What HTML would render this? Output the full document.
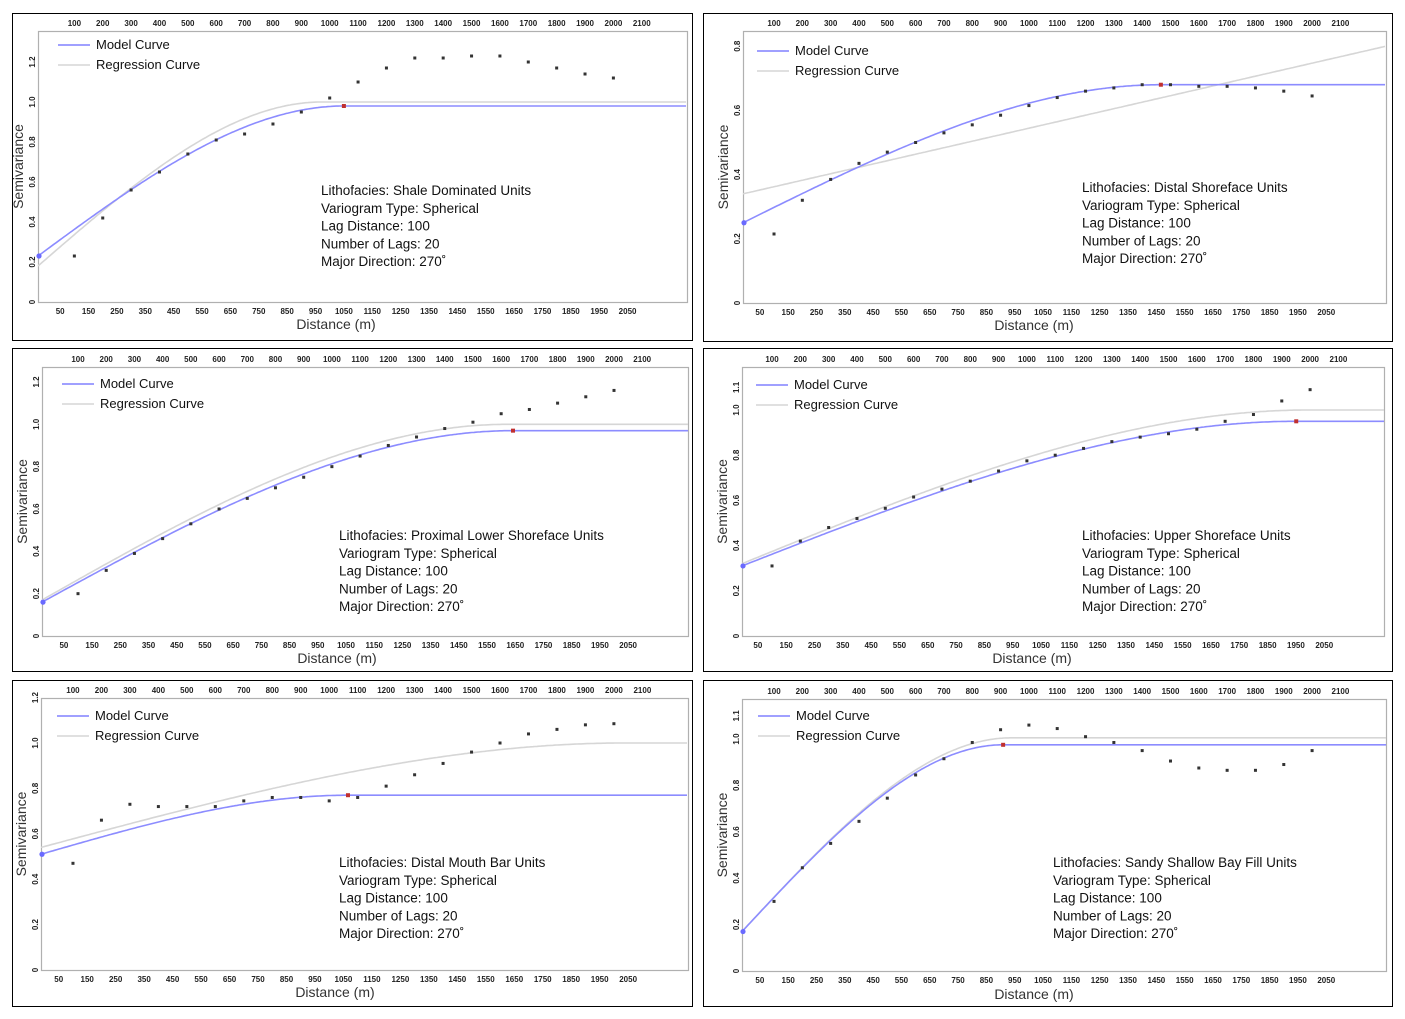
<!DOCTYPE html>
<html><head><meta charset="utf-8"><style>
html,body{margin:0;padding:0;background:#fff;}
svg{display:block;font-family:"Liberation Sans",sans-serif;}
</style></head><body>
<svg id="fig" width="1405" height="1019" viewBox="0 0 1405 1019" xmlns="http://www.w3.org/2000/svg"></svg>
<script>
// ---- data arrays ----
const lags = [100,200,300,400,500,600,700,800,900,1000,1100,1200,1300,1400,1500,1600,1700,1800,1900,2000];
const topTicks = [100,200,300,400,500,600,700,800,900,1000,1100,1200,1300,1400,1500,1600,1700,1800,1900,2000,2100];
const bottomTicks = [50,150,250,350,450,550,650,750,850,950,1050,1150,1250,1350,1450,1550,1650,1750,1850,1950,2050];
const titles = ["Shale Dominated Units","Distal Shoreface Units","Proximal Lower Shoreface Units","Upper Shoreface Units","Distal Mouth Bar Units","Sandy Shallow Bay Fill Units"];
const vals1 = [0.23,0.42,0.56,0.65,0.74,0.81,0.84,0.89,0.95,1.02,1.10,1.17,1.22,1.22,1.23,1.23,1.20,1.17,1.14,1.12];
const vals2 = [0.215,0.32,0.385,0.435,0.47,0.50,0.53,0.555,0.585,0.615,0.64,0.66,0.67,0.68,0.68,0.675,0.675,0.67,0.66,0.645];
const vals3 = [0.20,0.31,0.39,0.46,0.53,0.60,0.65,0.70,0.75,0.80,0.85,0.90,0.94,0.98,1.01,1.05,1.07,1.10,1.13,1.16];
const vals4 = [0.31,0.42,0.48,0.52,0.565,0.615,0.65,0.685,0.73,0.775,0.80,0.83,0.86,0.88,0.895,0.915,0.95,0.98,1.04,1.09];
const vals5 = [0.47,0.66,0.73,0.72,0.72,0.72,0.745,0.76,0.76,0.745,0.76,0.81,0.86,0.91,0.96,1.00,1.04,1.06,1.08,1.085];
const vals6 = [0.30,0.445,0.55,0.645,0.745,0.845,0.915,0.985,1.04,1.06,1.045,1.01,0.985,0.95,0.905,0.875,0.865,0.865,0.89,0.95];
// model: nugget, sill, range ; regression: nugget, sill, range (0 = linear)
const models = [[0.23,0.98,1050],[0.25,0.68,1466],[0.16,0.97,1642],[0.31,0.95,1951],[0.51,0.77,1066],[0.17,0.975,909]];
const regressions = [[0.18,1.0,1000],[0.34,0.80,0],[0.17,1.0,1650],[0.32,1.0,2000],[0.54,1.0,2050],[0.17,1.005,950]];
const yTicksA = [0,0.2,0.4,0.6,0.8,1.0,1.2];
const yTicksB = [0,0.2,0.4,0.6,0.8];
const yTicksC = [0,0.2,0.4,0.6,0.8,1.0,1.1];

const allVals=[vals1,vals2,vals3,vals4,vals5,vals6];
const yTickSets=[yTicksA,yTicksB,yTicksA,yTicksC,yTicksA,yTicksC];
// layout (not data)
const layouts=[
 {box:[12,13,680,327],L:38,R:687,T:31,B:302,x0:46,k:0.2837,yk:200,txt:[321,191],leg:[58,44],title:[22,336,325]},
 {box:[703,13,689,328],L:743,R:1386,T:31,B:303,x0:745.7,k:0.2832,yk:321,txt:[1082,188],leg:[757,50],title:[722,1034,326]},
 {box:[12,348,680,323],L:42,R:688,T:367,B:636,x0:49.8,k:0.2821,yk:211.7,txt:[339,536],leg:[62,383],title:[26,337,659]},
 {box:[703,348,689,323],L:742,R:1384,T:367,B:636,x0:743.7,k:0.2832,yk:226,txt:[1082,536],leg:[756,384],title:[722,1032,659]},
 {box:[12,680,680,326],L:41,R:688,T:698,B:970,x0:44.5,k:0.2847,yk:227,txt:[339,863],leg:[57,715],title:[22,335,993]},
 {box:[703,680,689,326],L:742,R:1386,T:699,B:971,x0:745.7,k:0.2832,yk:232,txt:[1053,863],leg:[758,715],title:[722,1034,995]}
];
const NS="http://www.w3.org/2000/svg";
const svg=document.getElementById('fig');
function mk(tag,attrs,parent){const e=document.createElementNS(NS,tag);for(const a in attrs)e.setAttribute(a,attrs[a]);(parent||svg).appendChild(e);return e;}
function sph(h,c0,c,a){if(h<=0)return c0;if(h>=a)return c;const r=h/a;return c0+(c-c0)*(1.5*r-0.5*r*r*r);}

layouts.forEach((lo,i)=>{
 const g=mk('g',{});
 
 
 const xs=v=>lo.x0+v*lo.k;
 const ys=v=>lo.B-v*lo.yk;
 const hOf=px=>(px-lo.L)/lo.k;
 const ob=mk('rect',{x:lo.box[0]+0.5,y:lo.box[1]+0.5,width:lo.box[2],height:lo.box[3],fill:'none',stroke:'#000','stroke-width':1},g);
 
 const pa=mk('rect',{x:lo.L+0.5,y:lo.T+0.5,width:lo.R-lo.L,height:lo.B-lo.T,fill:'#fff',stroke:'#b0b0b0','stroke-width':1.2},g);
 
 topTicks.forEach(t=>{const x=xs(t);if(x>lo.R)return;const e=mk('text',{x:x,y:lo.T-5,'font-size':8,'font-weight':'bold','text-anchor':'middle',fill:'#222'},g);e.textContent=t;
  });
 bottomTicks.forEach(t=>{const x=xs(t);const e=mk('text',{x:x,y:lo.B+12,'font-size':8,'font-weight':'bold','text-anchor':'middle',fill:'#222'},g);e.textContent=t;
  });
 yTickSets[i].forEach(t=>{const y=ys(t);const e=mk('text',{x:0,y:0,'font-size':8,'font-weight':'bold','text-anchor':'middle',fill:'#222',transform:`translate(${lo.L-3},${y}) rotate(-90)`},g);e.textContent=(t===0?'0':t.toFixed(1));
  });
 const yt=mk('text',{x:0,y:0,'font-size':14,'text-anchor':'middle',fill:'#333',transform:`translate(${lo.L-15},${(lo.T+lo.B)/2}) rotate(-90)`},g);yt.textContent='Semivariance';
 
 const xt=mk('text',{x:lo.title[1],y:lo.title[2]+4,'font-size':14,'text-anchor':'middle',fill:'#333'},g);xt.textContent='Distance (m)';
 
 const rg=regressions[i];let pts=[];
 for(let px=lo.L;px<=lo.R;px+=2){const h=hOf(px);let v=rg[2]===0?rg[0]+(rg[1]-rg[0])*(px-lo.L)/(lo.R-lo.L):sph(h,rg[0],rg[1],rg[2]);pts.push(px+','+ys(v).toFixed(1));}
 const rl=mk('polyline',{points:pts.join(' '),fill:'none',stroke:'#d6d6d6','stroke-width':1.6},g);
 
 const m=models[i];pts=[];
 const aH=(xs(m[2])-lo.L)/lo.k;
 for(let px=lo.L;px<=lo.R;px+=2){pts.push(px+','+ys(sph(hOf(px),m[0],m[1],aH)).toFixed(1));}
 const ml=mk('polyline',{points:pts.join(' '),fill:'none',stroke:'#8c8cff','stroke-width':1.6},g);
 
 const np=mk('circle',{cx:lo.L+1,cy:ys(m[0]),r:2.6,fill:'#6a6aff'},g);
 
 const rp=mk('rect',{x:xs(m[2])-2,y:ys(m[1])-2,width:4,height:4,fill:'#c03030'},g);
 
 allVals[i].forEach((v,j)=>{const d=mk('rect',{x:xs(lags[j])-1.5,y:ys(v)-1.5,width:3,height:3,fill:'#333'},g);
  });
 const l1=mk('line',{x1:lo.leg[0],y1:lo.leg[1]+1,x2:lo.leg[0]+32,y2:lo.leg[1]+1,stroke:'#8080ff','stroke-width':1.6},g);
 
 const t1=mk('text',{x:lo.leg[0]+38,y:lo.leg[1]+5,'font-size':13,fill:'#111'},g);t1.textContent='Model Curve';
 
 const l2=mk('line',{x1:lo.leg[0],y1:lo.leg[1]+21,x2:lo.leg[0]+32,y2:lo.leg[1]+21,stroke:'#d6d6d6','stroke-width':1.6},g);
 
 const t2=mk('text',{x:lo.leg[0]+38,y:lo.leg[1]+25,'font-size':13,fill:'#111'},g);t2.textContent='Regression Curve';
 
 const lines=['Lithofacies: '+titles[i],'Variogram Type: Spherical','Lag Distance: 100','Number of Lags: 20','Major Direction: 270˚'];
 lines.forEach((s,j)=>{const e=mk('text',{x:lo.txt[0],y:lo.txt[1]+4+j*17.8,'font-size':13.5,fill:'#111'},g);e.textContent=s;
  });
});
</script>
</body></html>
